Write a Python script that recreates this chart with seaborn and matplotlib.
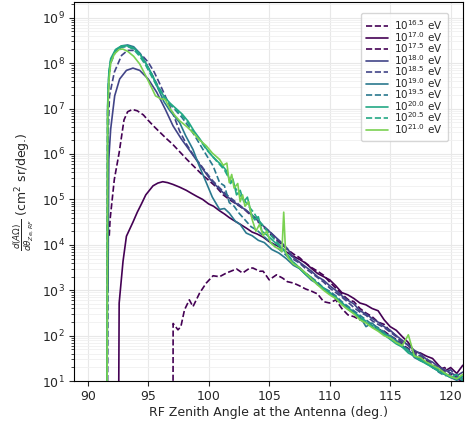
import numpy as np
import matplotlib
matplotlib.use("Agg")
import matplotlib.pyplot as plt
import seaborn as sns

# energies, colour group and line style for each curve
energies = ["16.5", "17.0", "17.5", "18.0", "18.5", "19.0", "19.5", "20.0", "20.5", "21.0"]
colors = ["#440154", "#440154", "#440154", "#414487", "#414487",
          "#2a788e", "#2a788e", "#22a884", "#22a884", "#7ad151"]
styles = ["--", "-", "--", "-", "--", "-", "--", "-", "--", "-"]

# (zenith angle, log10 dA/dtheta), before 107 deg
head_165 = [(97.05, 0.0), (97.06, 2.27), (97.46, 2.13), (97.7, 2.2), (98.0, 2.57), (98.4, 2.79),
            (98.7, 2.64), (99.25, 2.94), (99.8, 3.16), (100.36, 3.32), (100.9, 3.30), (101.46, 3.38),
            (102.3, 3.47), (102.8, 3.38), (103.4, 3.49), (103.66, 3.49), (104.2, 3.42), (104.5, 3.42),
            (105.0, 3.23), (105.6, 3.34), (106.1, 3.27), (106.5, 3.19)]
head_170 = [(92.55, 0.0), (92.6, 2.72), (92.92, 3.64), (93.2, 4.19), (93.74, 4.5), (94.1, 4.72),
            (94.44, 4.9), (94.8, 5.1), (95.4, 5.3), (95.8, 5.36), (96.2, 5.39), (96.6, 5.37),
            (97.05, 5.33), (97.6, 5.27), (98.15, 5.2), (98.6, 5.13), (99.0, 5.07), (99.5, 5.0),
            (100.0, 4.9), (100.4, 4.85), (100.9, 4.75), (101.3, 4.68), (101.7, 4.6), (102.0, 4.55),
            (102.5, 4.47), (103.1, 4.37), (103.6, 4.28), (104.0, 4.24), (104.5, 4.17), (105.0, 4.07),
            (105.5, 4.0), (105.9, 3.95), (106.5, 3.83)]
head_175 = [(91.78, 4.2), (91.85, 4.56), (92.2, 5.44), (92.6, 6.03), (93.0, 6.75), (93.3, 6.93),
            (93.7, 6.98), (94.1, 6.95), (94.6, 6.86), (95.0, 6.74), (95.5, 6.6), (96.0, 6.47),
            (96.5, 6.34), (97.0, 6.22), (97.6, 6.05), (98.2, 5.88), (98.8, 5.72), (99.4, 5.56),
            (100.0, 5.42), (100.6, 5.28), (101.2, 5.1), (101.8, 4.98), (102.4, 4.88), (103.0, 4.77),
            (103.6, 4.62), (104.2, 4.48), (104.8, 4.32), (105.4, 4.15), (106.0, 4.02), (106.5, 3.9)]
head_180 = [(91.68, 3.0), (91.74, 5.88), (91.9, 6.55), (92.23, 7.28), (92.64, 7.65), (93.2, 7.84),
            (93.74, 7.89), (94.3, 7.84), (95.0, 7.65), (95.7, 7.36), (96.4, 6.99), (97.05, 6.62),
            (97.74, 6.33), (98.5, 6.05), (99.3, 5.75), (100.1, 5.45), (100.8, 5.25), (101.5, 5.07),
            (102.2, 4.92), (103.1, 4.76), (103.8, 4.6), (104.5, 4.42), (105.2, 4.25), (105.9, 4.08),
            (106.5, 3.92)]
head_185 = [(91.65, 1.0), (91.7, 6.5), (91.8, 7.28), (92.2, 7.8), (92.8, 8.17), (93.3, 8.28),
            (93.8, 8.28), (94.2, 8.24), (94.6, 8.14), (95.0, 8.02), (95.5, 7.8), (96.0, 7.52),
            (96.5, 7.22), (97.0, 6.92), (97.6, 6.5), (98.2, 6.2), (98.8, 5.95), (99.5, 5.7),
            (100.2, 5.45), (100.8, 5.28), (101.5, 5.1), (102.2, 4.95), (103.0, 4.78), (103.8, 4.6),
            (104.5, 4.42), (105.2, 4.25), (105.9, 4.06), (106.5, 3.9)]
head_190 = [(91.6, 0.0), (91.65, 7.0), (91.75, 7.75), (91.9, 8.05), (92.3, 8.28), (92.8, 8.38),
            (93.3, 8.4), (93.8, 8.36), (94.3, 8.22), (94.8, 8.0), (95.3, 7.75), (95.8, 7.45),
            (96.3, 7.15), (96.8, 6.95), (97.2, 6.82), (97.6, 6.69), (98.1, 6.4), (98.7, 6.1),
            (99.2, 5.75), (99.8, 5.37), (100.3, 5.05), (100.9, 4.78), (101.3, 4.8), (101.7, 4.7),
            (102.2, 4.52), (102.6, 4.45), (103.1, 4.26), (103.6, 4.2), (104.1, 4.1), (104.6, 4.05),
            (105.2, 3.9), (105.8, 3.82), (106.4, 3.7)]
head_195 = [(91.6, 0.0), (91.65, 6.9), (91.75, 7.7), (91.9, 8.0), (92.3, 8.25), (92.8, 8.35),
            (93.3, 8.37), (93.8, 8.32), (94.3, 8.2), (94.8, 8.0), (95.3, 7.76), (95.8, 7.5),
            (96.3, 7.28), (96.8, 7.1), (97.3, 6.95), (97.8, 6.8), (98.3, 6.62), (98.8, 6.42),
            (99.3, 6.2), (99.8, 5.98), (100.36, 5.74), (100.9, 5.37), (101.3, 5.3), (101.7, 4.93),
            (102.1, 4.85), (102.5, 4.7), (103.0, 4.55), (103.5, 4.4), (104.0, 4.32), (104.5, 4.2),
            (105.0, 4.08), (105.6, 3.95), (106.2, 3.82), (106.6, 3.72)]
head_200 = [(91.6, 0.0), (91.65, 7.1), (91.75, 7.8), (91.9, 8.1), (92.3, 8.3), (92.8, 8.38),
            (93.3, 8.38), (93.8, 8.33), (94.3, 8.2), (94.8, 8.0), (95.3, 7.75), (95.8, 7.48),
            (96.3, 7.27), (96.8, 7.12), (97.3, 7.0), (97.8, 6.88), (98.3, 6.72), (98.8, 6.5),
            (99.3, 6.32), (99.8, 6.12), (100.3, 5.95), (100.8, 5.82), (101.2, 5.72), (101.5, 5.62),
            (101.8, 5.35), (102.0, 5.45), (102.3, 5.1), (102.6, 5.2), (102.9, 4.95), (103.2, 5.05),
            (103.5, 4.7), (103.8, 4.55), (104.1, 4.62), (104.4, 4.3), (104.8, 4.22), (105.2, 4.12),
            (105.7, 4.0), (106.2, 3.88), (106.6, 3.75)]
head_205 = [(91.6, 0.0), (91.65, 7.0), (91.75, 7.75), (91.9, 8.05), (92.3, 8.28), (92.8, 8.36),
            (93.3, 8.37), (93.8, 8.3), (94.3, 8.15), (94.8, 7.95), (95.3, 7.7), (95.8, 7.45),
            (96.3, 7.25), (96.8, 7.1), (97.3, 6.98), (97.8, 6.85), (98.3, 6.68), (98.8, 6.48),
            (99.3, 6.3), (99.8, 6.1), (100.3, 5.95), (100.8, 5.8), (101.3, 5.65), (101.7, 5.45),
            (102.1, 5.3), (102.5, 5.12), (102.9, 5.0), (103.3, 4.85), (103.7, 4.72), (104.1, 4.55),
            (104.5, 4.42), (105.0, 4.25), (105.5, 4.1), (106.0, 3.95), (106.5, 3.8)]
head_210 = [(91.6, 0.0), (91.65, 6.8), (91.75, 7.6), (91.9, 8.0), (92.2, 8.2), (92.6, 8.3),
            (92.9, 8.31), (93.3, 8.26), (93.8, 8.15), (94.3, 7.98), (94.8, 7.72), (95.3, 7.45),
            (95.6, 7.28), (96.0, 7.22), (96.4, 7.2), (96.8, 7.0), (97.2, 6.85), (97.6, 6.73),
            (98.2, 6.6), (98.7, 6.47), (99.2, 6.32), (99.8, 6.18), (100.3, 6.02), (100.9, 5.88),
            (101.2, 5.75), (101.5, 5.8), (101.7, 5.37), (101.9, 5.55), (102.1, 5.25), (102.4, 5.35),
            (102.6, 4.95), (102.8, 5.1), (103.0, 4.85), (103.3, 4.95), (103.6, 4.55), (103.9, 4.3),
            (104.2, 4.45), (104.5, 4.2), (104.8, 4.3), (105.1, 4.05), (105.5, 3.95), (105.9, 3.9),
            (106.05, 3.85), (106.2, 4.72), (106.35, 3.85), (106.6, 3.7)]

# tail, 107-121 deg in 0.5 deg steps
theta_tail = np.arange(107.0, 121.01, 0.5)
tail_165 = [3.16, 3.1, 3.03, 2.98, 2.92, 2.75, 2.72, 2.79, 2.6, 2.46, 2.42, 2.35, 2.3, 2.22, 2.15,
            2.1, 2.0, 1.92, 1.8, 1.72, 1.6, 1.48, 1.45, 1.3, 1.28, 1.15, 1.1, 1.05, 1.0]
tail_170 = [3.75, 3.68, 3.6, 3.48, 3.37, 3.3, 3.23, 3.1, 2.95, 2.9, 2.82, 2.72, 2.68, 2.6, 2.55,
            2.35, 2.2, 2.12, 1.98, 1.85, 1.65, 1.62, 1.55, 1.5, 1.35, 1.22, 1.3, 1.17, 1.35]
tail_175 = [3.8, 3.72, 3.6, 3.5, 3.42, 3.33, 3.18, 3.05, 2.92, 2.8, 2.75, 2.6, 2.5, 2.42, 2.3,
            2.25, 2.1, 2.0, 1.85, 1.8, 1.62, 1.55, 1.45, 1.38, 1.25, 1.3, 1.15, 1.1, 1.05]
tail_180 = [3.72, 3.62, 3.52, 3.42, 3.3, 3.22, 3.1, 3.0, 2.88, 2.78, 2.7, 2.55, 2.48, 2.38, 2.3,
            2.2, 2.12, 2.0, 1.9, 1.78, 1.68, 1.6, 1.48, 1.42, 1.32, 1.25, 1.18, 1.12, 1.2]
tail_185 = [3.68, 3.6, 3.48, 3.38, 3.28, 3.18, 3.05, 2.95, 2.85, 2.74, 2.62, 2.52, 2.45, 2.33, 2.25,
            2.18, 2.08, 1.98, 1.85, 1.8, 1.62, 1.55, 1.5, 1.35, 1.3, 1.2, 1.25, 1.1, 1.05]
tail_190 = [3.55, 3.48, 3.35, 3.22, 3.15, 3.02, 2.95, 2.85, 2.72, 2.62, 2.52, 2.42, 2.2, 2.28, 2.15,
            2.05, 2.0, 1.9, 1.78, 1.7, 1.52, 1.45, 1.4, 1.3, 1.22, 1.15, 1.08, 1.02, 1.1]
tail_195 = [3.6, 3.5, 3.38, 3.28, 3.18, 3.05, 2.98, 2.88, 2.75, 2.65, 2.55, 2.45, 2.35, 2.25, 2.18,
            2.08, 1.95, 1.88, 1.75, 1.68, 1.55, 1.5, 1.38, 1.32, 1.2, 1.12, 1.15, 1.05, 1.0]
tail_200 = [3.6, 3.48, 3.35, 3.25, 3.12, 3.05, 2.92, 2.82, 2.7, 2.58, 2.5, 2.38, 2.3, 2.2, 2.12,
            2.02, 1.92, 1.82, 1.75, 1.62, 1.55, 1.45, 1.38, 1.3, 1.22, 1.15, 1.08, 1.15, 1.02]
tail_205 = [3.62, 3.5, 3.38, 3.28, 3.15, 3.05, 2.95, 2.85, 2.72, 2.62, 2.5, 2.42, 2.32, 2.22, 2.15,
            2.05, 1.95, 1.85, 1.78, 1.65, 1.58, 1.48, 1.42, 1.32, 1.25, 1.18, 1.1, 1.05, 1.12]
tail_210 = [3.58, 3.5, 3.38, 3.25, 3.12, 3.0, 2.9, 2.82, 2.68, 2.58, 2.48, 2.35, 2.28, 2.18, 2.1,
            2.0, 1.95, 1.85, 1.78, 2.02, 1.55, 1.52, 1.42, 1.35, 1.28, 1.18, 1.1, 1.05, 1.15]

heads = [head_165, head_170, head_175, head_180, head_185,
         head_190, head_195, head_200, head_205, head_210]
tails = [tail_165, tail_170, tail_175, tail_180, tail_185,
         tail_190, tail_195, tail_200, tail_205, tail_210]

sns.set_style("ticks", {"axes.linewidth": 0.8, "xtick.major.size": 3.5, "ytick.major.size": 3.5,
                        "ytick.minor.size": 2.0, "xtick.major.width": 0.8, "ytick.major.width": 0.8,
                        "ytick.minor.width": 0.6})
plt.rcParams['font.family'] = ['DejaVu Sans']

fig, ax = plt.subplots(figsize=(4.67, 4.24), dpi=100)
fig.subplots_adjust(left=0.158, right=0.991, top=0.995, bottom=0.101)

for e, c, ls, head, tail in zip(energies, colors, styles, heads, tails):
    th = np.concatenate([[p[0] for p in head], theta_tail])
    lv = np.concatenate([[p[1] for p in head], tail])
    sns.lineplot(x=th, y=10.0 ** lv, ax=ax, color=c, linestyle=ls, lw=1.2,
                 sort=False, estimator=None, label=r"10$^{%s}$ eV" % e)

ax.set_yscale('log')
ax.set_xlim(88.85, 121.0)
ax.set_ylim(10, 2.2e9)
ax.set_xticks([90, 95, 100, 105, 110, 115, 120])
ax.grid(which='major', color='#e8e8e8', lw=0.8)
ax.grid(which='minor', axis='y', color='#f0f0f0', lw=0.6)
ax.tick_params(labelsize=9, pad=3)
ax.set_xlabel('RF Zenith Angle at the Antenna (deg.)', fontsize=9, labelpad=2)
ax.set_ylabel(r'$\frac{d(A\Omega)}{d\theta_{Ze,RF}}$ (cm$^2$ sr/deg.)', fontsize=9)
for s in ax.spines.values():
    s.set_color('black')
ax.legend(loc='upper right', fontsize=7.5, labelspacing=-0.22, handlelength=2.1,
          borderpad=0.5, handletextpad=0.6, bbox_to_anchor=(0.975, 0.985))

plt.savefig('out.png', dpi=100)
